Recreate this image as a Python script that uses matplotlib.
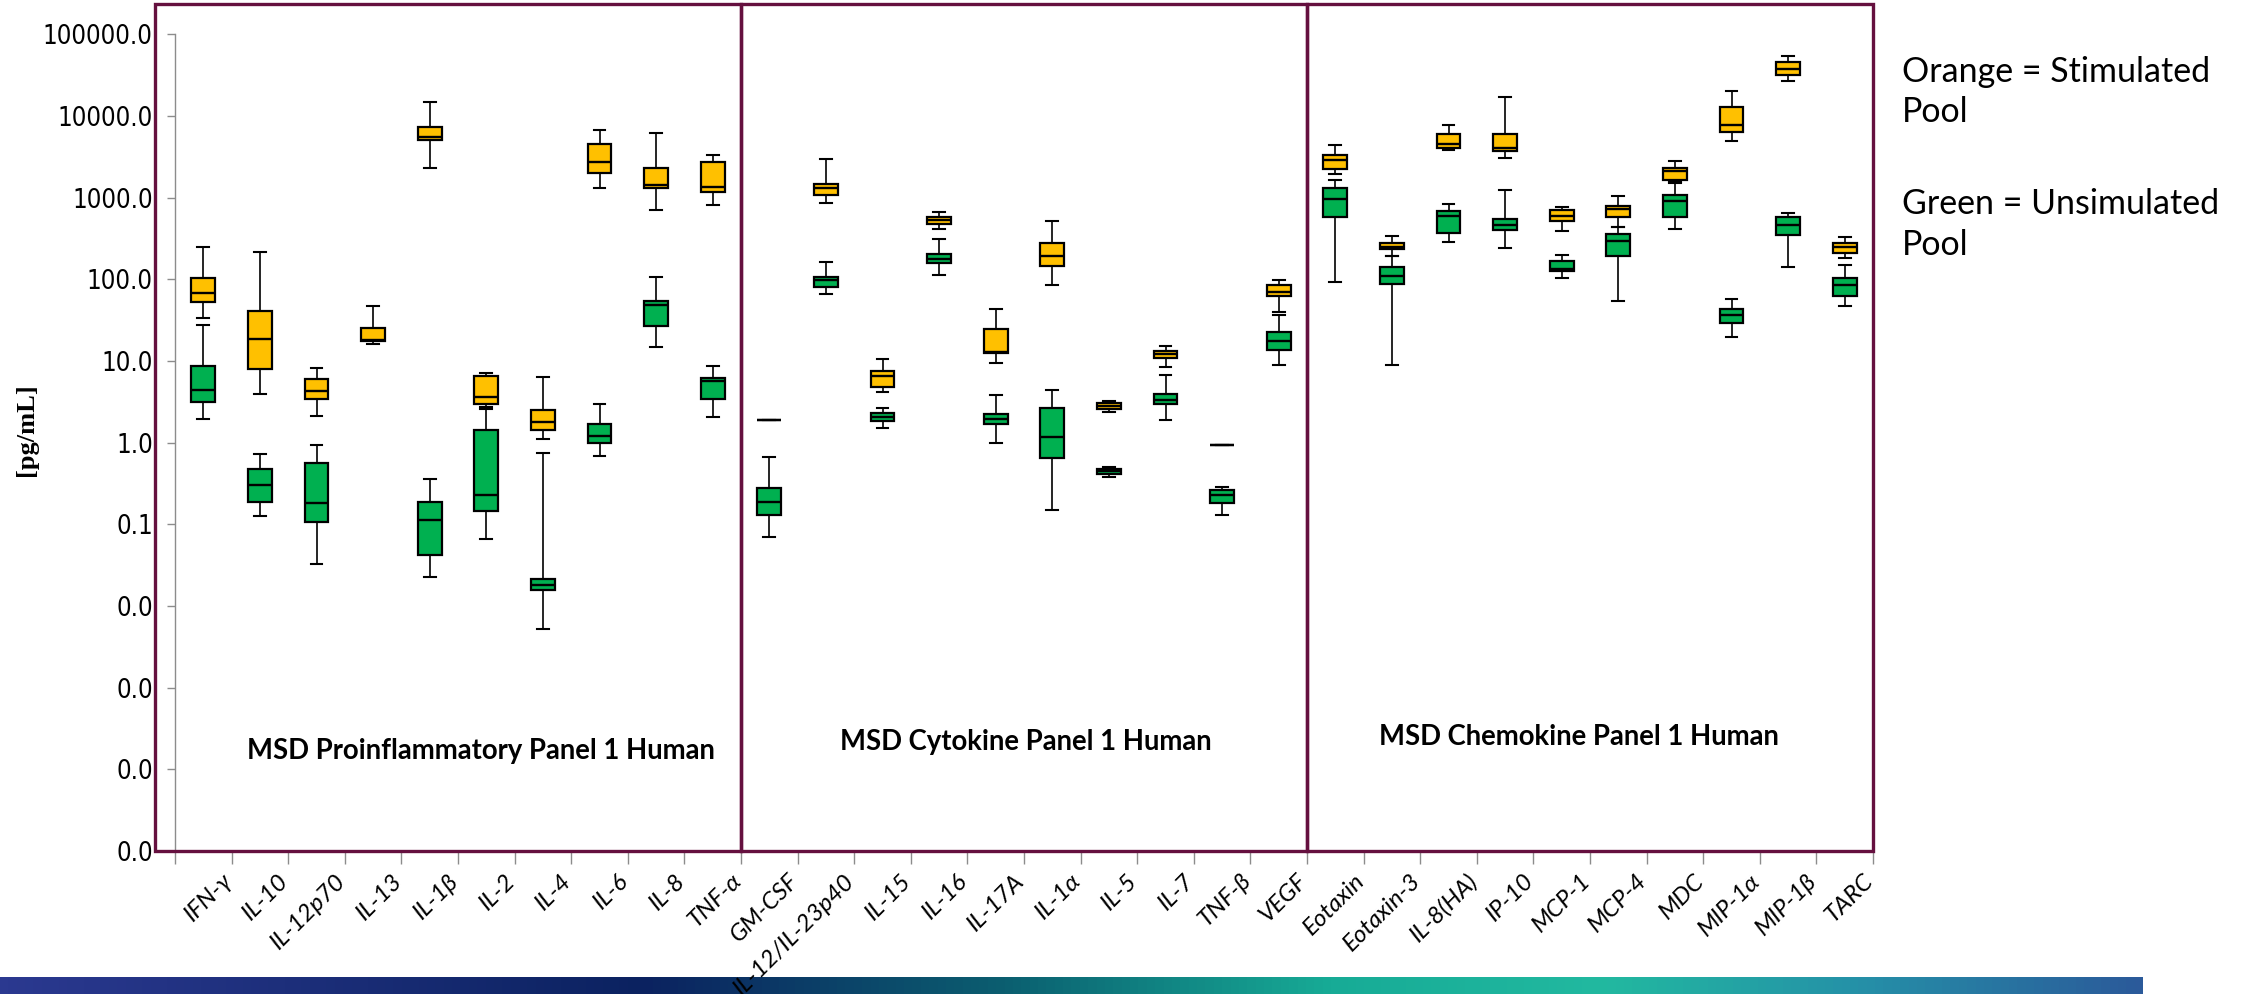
import numpy as np
import matplotlib
matplotlib.use("Agg")
import matplotlib.pyplot as plt
from matplotlib.transforms import blended_transform_factory, ScaledTranslation
from matplotlib.patches import Rectangle
from matplotlib.colors import LinearSegmentedColormap
from matplotlib.ticker import FixedLocator, FuncFormatter, NullFormatter

# ---- analytes (three MSD panels of ten) ----
analytes = ["IFN-γ", "IL-10", "IL-12p70", "IL-13", "IL-1β", "IL-2", "IL-4", "IL-6", "IL-8", "TNF-α",
            "GM-CSF", "IL-12/IL-23p40", "IL-15", "IL-16", "IL-17A", "IL-1α", "IL-5", "IL-7", "TNF-β", "VEGF",
            "Eotaxin", "Eotaxin-3", "IL-8(HA)", "IP-10", "MCP-1", "MCP-4", "MDC", "MIP-1α", "MIP-1β", "TARC"]
panel_names = ["MSD Proinflammatory Panel 1 Human", "MSD Cytokine Panel 1 Human",
               "MSD Chemokine Panel 1 Human"]
y_tick_values = [1e-5, 1e-4, 1e-3, 1e-2, 1e-1, 1e0, 1e1, 1e2, 1e3, 1e4, 1e5]

# ---- stimulated pool [pg/mL]: whisker low, Q1, median, Q3, whisker high ----
stim_low = [34, 4.0, 2.15, 16.2, 2290, 2.72, 1.11, 1330, 710, 817,
            1.92, 857, 4.19, 412, 9.57, 86, 2.41, 8.5, 0.95, 39.5,
            1930, 193, 3840, 3030, 387, 445, 1570, 4990, 26800, 182]
stim_q1 = [53, 8.0, 3.45, 17.4, 5140, 2.95, 1.43, 2030, 1305, 1189,
           1.92, 1093, 4.78, 483, 12.4, 148, 2.57, 11.0, 0.95, 62.5,
           2240, 233, 4130, 3770, 518, 590, 1645, 6370, 31500, 212]
stim_med = [68, 18.6, 4.3, 18.3, 5540, 3.65, 1.79, 2720, 1430, 1343,
            1.92, 1306, 6.5, 531, 13.1, 193, 2.8, 12.2, 0.95, 71,
            2900, 251, 4540, 4130, 602, 726, 2100, 7900, 37300, 251]
stim_q3 = [104, 40.5, 6.0, 25.1, 7340, 6.5, 2.55, 4550, 2310, 2740,
           1.92, 1475, 7.5, 578, 24.4, 280, 3.07, 13.2, 0.95, 85,
           3360, 276, 6080, 6080, 700, 783, 2290, 13000, 45400, 276]
stim_high = [251, 215, 8.2, 47, 15000, 7.2, 6.38, 6810, 6200, 3360,
             1.92, 3010, 10.6, 671, 43.8, 516, 3.25, 15.5, 0.95, 98,
             4400, 340, 7690, 17400, 762, 1047, 2790, 20600, 53800, 327]

# ---- unstimulated pool [pg/mL] (no IL-13 result) ----
unstim_low = [1.94, 0.126, 0.0328, np.nan, 0.023, 0.0664, 0.00517, 0.686, 15, 2.07,
              0.0695, 66, 1.51, 114, 0.98, 0.15, 0.38, 1.9, 0.129, 9.0,
              92, 8.9, 284, 242, 105, 55, 417, 20, 144, 47]
unstim_q1 = [3.2, 0.186, 0.108, np.nan, 0.042, 0.147, 0.0159, 0.99, 27.1, 3.4,
             0.131, 80, 1.87, 158, 1.72, 0.642, 0.409, 3.01, 0.182, 13.8,
             574, 89, 372, 409, 128, 195, 590, 28.9, 349, 62.5]
unstim_med = [4.4, 0.30, 0.185, np.nan, 0.112, 0.227, 0.0183, 1.2, 48, 5.76,
              0.186, 99, 2.05, 180, 1.96, 1.18, 0.445, 3.37, 0.226, 17.6,
              980, 110, 602, 463, 134, 295, 919, 36.6, 463, 85]
unstim_q3 = [8.6, 0.475, 0.563, np.nan, 0.19, 1.44, 0.0213, 1.69, 54.7, 6.15,
             0.279, 106, 2.32, 206, 2.28, 2.67, 0.48, 3.96, 0.266, 22.7,
             1300, 143, 693, 548, 166, 356, 1090, 43, 574, 103]
unstim_high = [28, 0.73, 0.935, np.nan, 0.359, 2.62, 0.746, 3.0, 108, 8.7,
               0.667, 164, 2.67, 311, 3.82, 4.44, 0.508, 6.76, 0.286, 37,
               1645, 193, 828, 1230, 199, 445, 1500, 57, 643, 150]

ORANGE = "#FFC000"
GREEN = "#00B050"
MAROON = "#65103F"
GRAY = "#8C8C8C"

W, H, DPI = 2251, 994, 100
fig = plt.figure(figsize=(W / DPI, H / DPI), dpi=DPI)
fig.patch.set_facecolor("white")

# footer gradient band
band = fig.add_axes([0, 0, 2143 / W, 17 / H])
band_cmap = LinearSegmentedColormap.from_list(
    "band", [(0.0, "#2b3990"), (0.3, "#0b2260"), (0.47, "#0b5f70"), (0.62, "#17ab96"),
             (0.75, "#22b9a0"), (0.87, "#2590a8"), (1.0, "#2b5a9a")])
band.imshow(np.linspace(0, 1, 512)[None, :], aspect="auto", cmap=band_cmap,
            extent=[0, 1, 0, 1])
band.set_axis_off()

# main chart axes
ax_left, ax_right, ax_bottom, ax_top = 175, 1873, 143, 990
ax = fig.add_axes([ax_left / W, ax_bottom / H, (ax_right - ax_left) / W, (ax_top - ax_bottom) / H])
ax.patch.set_alpha(0)
ax.set_zorder(2)
n = len(analytes)
positions = np.arange(1, n + 1)
ax.set_yscale("log")
ax.set_xlim(0.5, n + 0.5)
ax.set_ylim(1e-5, 10 ** 5.3735)


def build_stats(low, q1, med, q3, high):
    stats, pos = [], []
    for i in range(n):
        if np.isnan(med[i]):
            continue
        stats.append(dict(whislo=low[i], q1=q1[i], med=med[i], q3=q3[i], whishi=high[i], fliers=[]))
        pos.append(positions[i])
    return stats, pos


def draw_series(stats, pos, color):
    ax.bxp(stats, positions=pos, widths=0.42, capwidths=0.21, showfliers=False,
           patch_artist=True,
           boxprops=dict(facecolor=color, edgecolor="black", linewidth=1.6),
           medianprops=dict(color="black", linewidth=1.7),
           whiskerprops=dict(color="black", linewidth=1.2),
           capprops=dict(color="black", linewidth=1.5),
           manage_ticks=False)


draw_series(*build_stats(unstim_low, unstim_q1, unstim_med, unstim_q3, unstim_high), GREEN)
draw_series(*build_stats(stim_low, stim_q1, stim_med, stim_q3, stim_high), ORANGE)

# axes styling
for side in ("top", "right", "bottom"):
    ax.spines[side].set_visible(False)
ax.spines["left"].set_color(GRAY)
ax.spines["left"].set_linewidth(1.0)
ax.spines["left"].set_bounds(1e-5, 1e5)

ax.yaxis.set_major_locator(FixedLocator(y_tick_values))
ax.yaxis.set_minor_locator(FixedLocator([]))
ax.yaxis.set_major_formatter(FuncFormatter(lambda v, p: f"{v:.1f}"))
ax.tick_params(axis="y", which="major", length=6, width=1.0, color=GRAY, pad=10,
               labelsize=18.5, labelcolor="black")
for lbl in ax.get_yticklabels():
    lbl.set_family(["Liberation Sans Narrow", "DejaVu Sans"])
    lbl.set_fontstretch("condensed")

ax.xaxis.set_major_locator(FixedLocator(np.arange(0.5, n + 1.0, 1.0)))
ax.xaxis.set_major_formatter(NullFormatter())
ax.tick_params(axis="x", which="major", length=9, width=1.0, color=GRAY, direction="out")

# rotated analyte labels
xtrans = blended_transform_factory(ax.transData, ax.transAxes)
for x, name in zip(positions, analytes):
    off = ScaledTranslation(18 / DPI, -19 / DPI, fig.dpi_scale_trans)
    ax.text(x, 0, name, transform=xtrans + off, rotation=45, rotation_mode="anchor",
            ha="right", va="top", fontsize=17.5, fontstyle="italic", family=["Lato", "DejaVu Sans"],
            clip_on=False)

# panel frames
px = 56.6
edges = [0.5 - 20 / px, 10.5, 20.5, 30.5]
for i in range(3):
    ax.add_patch(Rectangle((edges[i], 0), edges[i + 1] - edges[i], 1, transform=xtrans,
                           fill=False, edgecolor=MAROON, linewidth=2.4, clip_on=False, zorder=5))

# panel names
panel_centers = [(481, 751), (1026, 742), (1579, 737)]
for name, (cx, cy) in zip(panel_names, panel_centers):
    fig.text(cx / W, 1 - cy / H, name, ha="center", va="center", fontsize=19.8,
             fontweight="bold", family=["Lato", "DejaVu Sans"])

# y-axis title
fig.text(26 / W, 1 - 430 / H, "[pg/mL]", rotation=90, ha="center", va="center",
         fontsize=19, fontweight="bold", family=["Liberation Serif", "DejaVu Serif"])

# colour key
key_lines = [("Orange = Stimulated", 72), ("Pool", 112), ("Green = Unsimulated", 204), ("Pool", 245)]
for txt, yy in key_lines:
    fig.text(1902 / W, 1 - yy / H, txt, ha="left", va="center", fontsize=24.5,
             family=["Lato", "DejaVu Sans"])

fig.savefig("out.png", dpi=DPI, facecolor="white")
